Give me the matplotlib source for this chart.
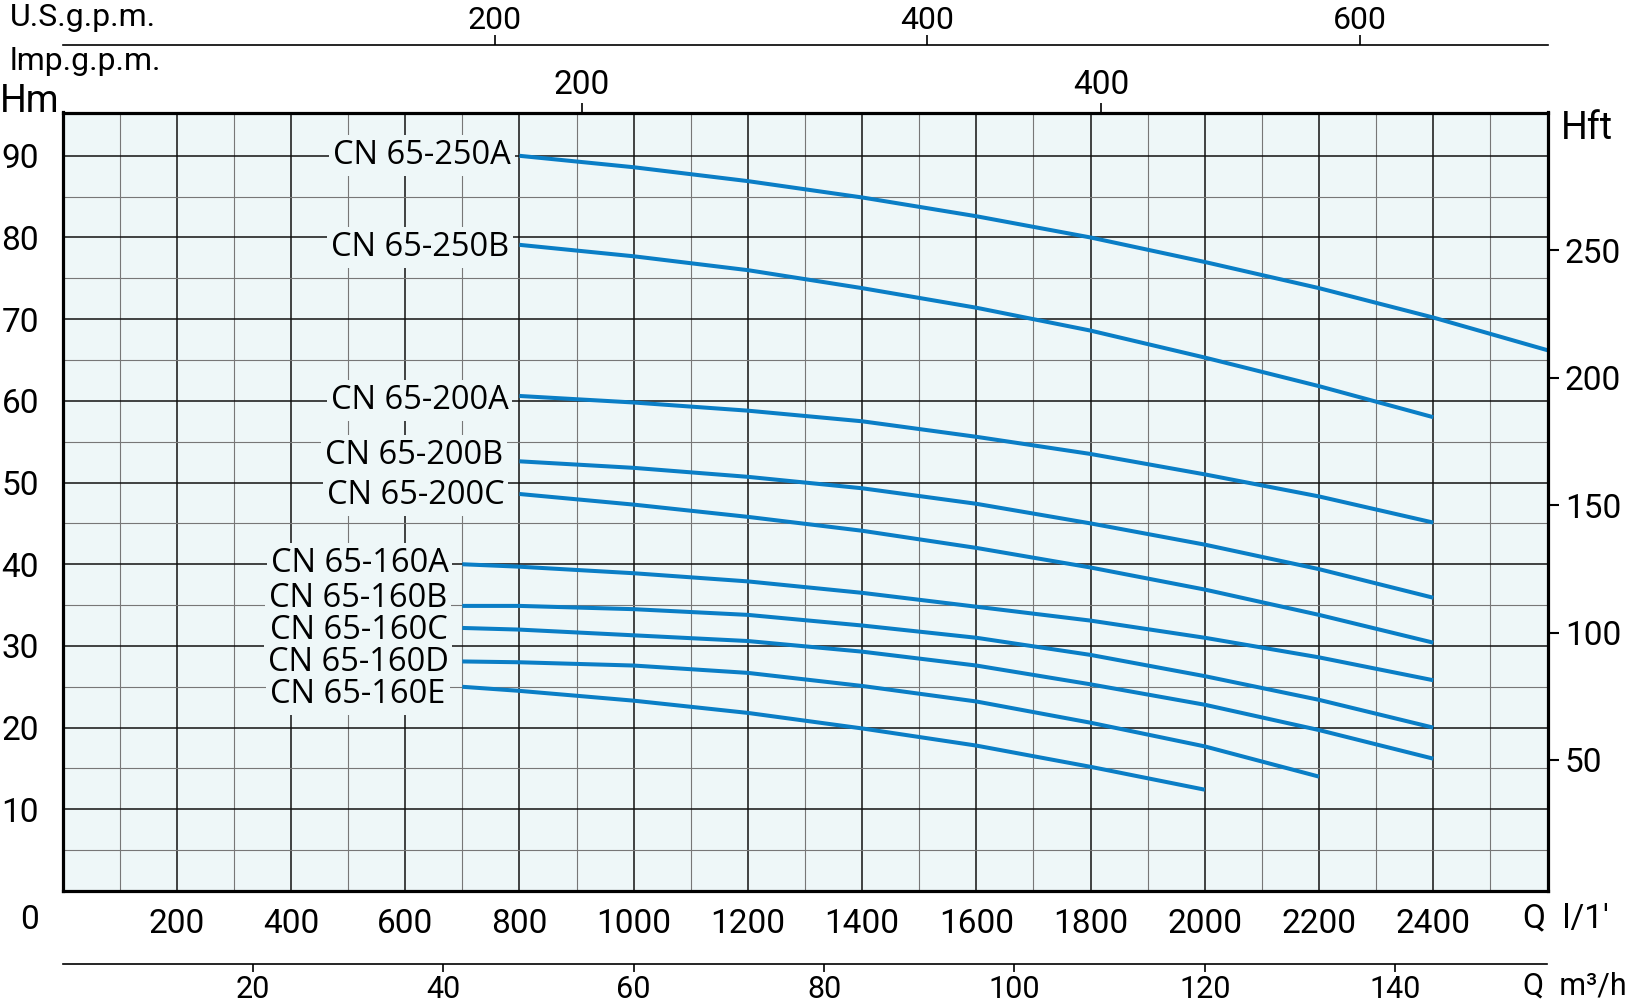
import matplotlib.pyplot as plt
from matplotlib.ticker import FixedLocator

plt.rcParams['font.family'] = ['Roboto', 'DejaVu Sans']

W, H = 1634, 1006

# pump curves: Q in l/min, H in m
names = ['CN 65-250A', 'CN 65-250B', 'CN 65-200A', 'CN 65-200B', 'CN 65-200C',
         'CN 65-160A', 'CN 65-160B', 'CN 65-160C', 'CN 65-160D', 'CN 65-160E']

q_250A = [800, 1000, 1200, 1400, 1600, 1800, 2000, 2200, 2400, 2600]
h_250A = [90.0, 88.6, 86.9, 84.9, 82.6, 80.0, 77.0, 73.8, 70.2, 66.2]
q_250B = [800, 1000, 1200, 1400, 1600, 1800, 2000, 2200, 2400]
h_250B = [79.1, 77.7, 76.0, 73.8, 71.4, 68.6, 65.3, 61.8, 58.0]
q_200A = [800, 1000, 1200, 1400, 1600, 1800, 2000, 2200, 2400]
h_200A = [60.6, 59.8, 58.8, 57.5, 55.6, 53.5, 51.0, 48.3, 45.1]
q_200B = [800, 1000, 1200, 1400, 1600, 1800, 2000, 2200, 2400]
h_200B = [52.6, 51.8, 50.7, 49.3, 47.4, 45.0, 42.4, 39.4, 35.9]
q_200C = [800, 1000, 1200, 1400, 1600, 1800, 2000, 2200, 2400]
h_200C = [48.6, 47.3, 45.8, 44.1, 42.0, 39.6, 36.9, 33.8, 30.4]
q_160A = [700, 800, 1000, 1200, 1400, 1600, 1800, 2000, 2200, 2400]
h_160A = [40.0, 39.7, 38.9, 37.9, 36.5, 34.8, 33.1, 31.0, 28.6, 25.8]
q_160B = [700, 800, 1000, 1200, 1400, 1600, 1800, 2000, 2200, 2400]
h_160B = [34.9, 34.9, 34.5, 33.8, 32.5, 31.0, 28.9, 26.3, 23.4, 20.0]
q_160C = [700, 800, 1000, 1200, 1400, 1600, 1800, 2000, 2200, 2400]
h_160C = [32.2, 32.0, 31.3, 30.6, 29.3, 27.6, 25.3, 22.8, 19.7, 16.2]
q_160D = [700, 800, 1000, 1200, 1400, 1600, 1800, 2000, 2200]
h_160D = [28.1, 28.0, 27.6, 26.7, 25.1, 23.2, 20.6, 17.7, 14.0]
q_160E = [700, 800, 1000, 1200, 1400, 1600, 1800, 2000]
h_160E = [25.0, 24.5, 23.3, 21.8, 19.9, 17.8, 15.2, 12.4]

flows = [q_250A, q_250B, q_200A, q_200B, q_200C, q_160A, q_160B, q_160C, q_160D, q_160E]
heads = [h_250A, h_250B, h_200A, h_200B, h_200C, h_160A, h_160B, h_160C, h_160D, h_160E]

# label offsets from curve start (points)
label_dx = [-6, -7.5, -8, -12, -11, -10, -11, -10.5, -10, -12]
label_dy = [3, 0.75, -0.75, 6.75, 1.5, 3, 8, 0.75, 1.5, -3]

q_ticks = [200, 400, 600, 800, 1000, 1200, 1400, 1600, 1800, 2000, 2200, 2400]
hm_ticks = [10, 20, 30, 40, 50, 60, 70, 80, 90]
hft_ticks = [50, 100, 150, 200, 250]
usgpm_ticks = [200, 400, 600]
impgpm_ticks = [200, 400]
m3h_ticks = [20, 40, 60, 80, 100, 120, 140]

bg = '#eef7f8'
blue = '#0a7ec6'
fs = 24

fig = plt.figure(figsize=(W / 100, H / 100), dpi=100)
x0, x1 = 62.5 / W, 1547.5 / W
y_bot, y_top = 1 - 891 / H, 1 - 112.5 / H
ax = fig.add_axes([x0, y_bot, x1 - x0, y_top - y_bot])
ax.set_facecolor(bg)
ax.set_xlim(0, 2600)
ax.set_ylim(0, 95.3)

ax.xaxis.set_major_locator(FixedLocator(q_ticks))
ax.xaxis.set_minor_locator(FixedLocator(list(range(100, 2600, 200))))
ax.yaxis.set_major_locator(FixedLocator(hm_ticks))
ax.yaxis.set_minor_locator(FixedLocator(list(range(5, 95, 10))))
ax.grid(which='major', color='#111111', lw=1.1)
ax.grid(which='minor', color='#777777', lw=0.8)
ax.tick_params(which='both', length=0)
ax.tick_params(axis='x', pad=12, labelsize=fs)
ax.tick_params(axis='y', pad=17, labelsize=fs)
for s in ax.spines.values():
    s.set_linewidth(2.3)
    s.set_zorder(5)

for name, q, h, dx, dy in zip(names, flows, heads, label_dx, label_dy):
    ax.plot(q, h, color=blue, lw=2.9, solid_capstyle='butt', zorder=4)
    ax.annotate(name, xy=(q[0], h[0]), xytext=(dx, dy - 2.5), textcoords='offset points',
                ha='right', va='center', fontsize=23.5, family=['Open Sans', 'DejaVu Sans'],
                bbox=dict(boxstyle='square,pad=0.12', fc=bg, ec='none'), zorder=3)

# feet on the right
axr = ax.twinx()
axr.set_ylim(-1.4, 304)
axr.yaxis.set_major_locator(FixedLocator(hft_ticks))
axr.tick_params(axis='y', direction='out', length=8.5, width=1.5, pad=4, labelsize=fs)
for s in axr.spines.values():
    s.set_visible(False)

# Imp. gallons on top of the frame
sec = ax.secondary_xaxis('top', functions=(lambda q: q / 4.54609, lambda g: g * 4.54609))
sec.xaxis.set_major_locator(FixedLocator(impgpm_ticks))
sec.tick_params(direction='out', length=6.5, width=1.2, pad=1.5, labelsize=fs)
sec.spines['top'].set_visible(False)

# U.S. gallons line
ax_us = fig.add_axes([x0, 1 - 45 / H - 0.01, x1 - x0, 0.01])
ax_us.set_xlim(0, 2600 / 3.78541)
ax_us.patch.set_visible(False)
for k in ['left', 'right', 'bottom']:
    ax_us.spines[k].set_visible(False)
ax_us.spines['top'].set_linewidth(1.2)
ax_us.set_yticks([])
ax_us.xaxis.tick_top()
ax_us.xaxis.set_major_locator(FixedLocator(usgpm_ticks))
ax_us.tick_params(axis='x', direction='out', length=7, width=1.2, pad=0, labelsize=23)

# m3/h line
ax_m3 = fig.add_axes([x0, 1 - 964 / H, x1 - x0, 0.01])
ax_m3.set_xlim(0, 2600 * 0.06)
ax_m3.patch.set_visible(False)
for k in ['left', 'right', 'top']:
    ax_m3.spines[k].set_visible(False)
ax_m3.spines['bottom'].set_linewidth(1.2)
ax_m3.set_yticks([])
ax_m3.xaxis.set_major_locator(FixedLocator(m3h_ticks))
ax_m3.tick_params(axis='x', direction='out', length=6, width=1.2, pad=2, labelsize=22)


def px(x, y):
    return x / W, 1 - y / H


# unit texts
fig.text(*px(10, 3), 'U.S.g.p.m.', fontsize=23, ha='left', va='top')
fig.text(*px(10, 47), 'lmp.g.p.m.', fontsize=23, ha='left', va='top')
fig.text(*px(0, 112), 'Hm', fontsize=27, ha='left', va='baseline')
fig.text(*px(1561, 110), 'Hft', fontsize=27, ha='left', va='top')
fig.text(*px(29, 920), '0', fontsize=fs, ha='center', va='center')
fig.text(*px(1523, 918), 'Q  l/1′', fontsize=fs, ha='left', va='center')
fig.text(*px(1523, 986), 'Q  m³/h', fontsize=22, ha='left', va='center')

fig.savefig('out.png', dpi=100, facecolor='white')
